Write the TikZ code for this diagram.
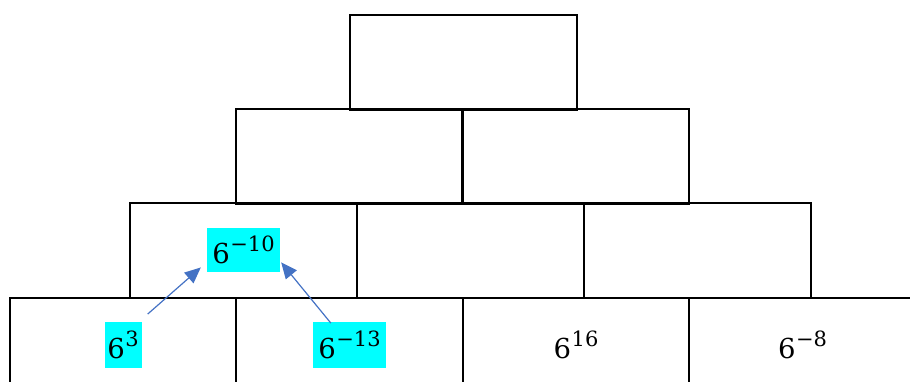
\documentclass[tikz,border=0pt]{standalone}
\usepackage{fontspec}
\setmainfont{DejaVu Serif}
\usetikzlibrary{arrows.meta,calc}
\definecolor{hl}{HTML}{00FFFF}
\definecolor{arr}{HTML}{4472C4}
\newcommand{\pw}[2]{#1\kern0.5pt\raisebox{12pt}{\fontsize{21}{25}\selectfont #2}}
\begin{document}
\begin{tikzpicture}[x=1pt,y=-1pt,
  cell/.style={draw=black,line width=2pt,minimum width=227pt,minimum height=94.5pt,inner sep=0pt,anchor=north west},
  num/.style={inner sep=0pt,font=\fontsize{27.5}{32}\selectfont},
  hlt/.style={num,fill=hl},
  link/.style={draw=arr,line width=1.2pt,-{Triangle[length=16pt,width=14pt]}}]
\useasboundingbox (0,0) rectangle (910,381);
\clip (0,0) rectangle (910,381);
% row 1
\node[cell] (c11) at (349,14) {};
% row 2
\node[cell] (c21) at (235,108) {};
\node[cell] (c22) at (461,108) {};
% row 3
\node[cell] (c31) at (129,202) {};
\node[cell] (c32) at (356,202) {};
\node[cell] (c33) at (583,202) {};
% row 4
\node[cell,minimum width=226pt] (c41) at (9,297) {};
\node[cell] (c42) at (235,297) {};
\node[cell,minimum width=226pt] (c43) at (462,297) {};
\node[cell] (c44) at (688,297) {};
% texts
\node[hlt,minimum width=73pt,minimum height=44pt] (t10) at (c31.center) {\pw{6}{−10}};
\node[hlt,minimum width=37pt,minimum height=46pt] (t3) at (c41.center) {\pw{6}{3}};
\node[hlt,minimum width=73pt,minimum height=46pt] (t13) at (c42.center) {\pw{6}{−13}};
\node[num] (t16) at (c43.center) {\pw{6}{16}};
\node[num] (t8) at (c44.center) {\pw{6}{−8}};
% arrows
\draw[link] ($(t3.north east)+(6,-8)$) -- ($(t10.south west)+(-6,-5)$);
\draw[link] ($(t13.north west)+(18,1)$) -- ($(t10.south east)+(1,-10)$);
\end{tikzpicture}
\end{document}
